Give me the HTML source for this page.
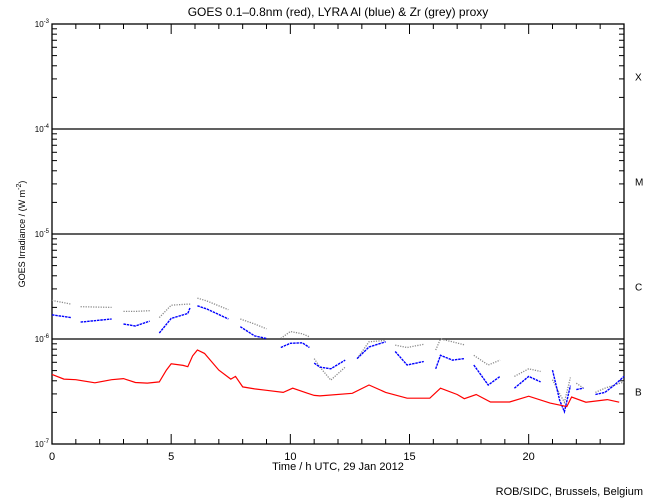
<!DOCTYPE html>
<html><head><meta charset="utf-8"><style>
html,body{margin:0;padding:0;background:#fff;}
svg{display:block;font-family:"Liberation Sans",sans-serif;}
</style></head><body>
<svg id="chart" width="650" height="500" viewBox="0 0 650 500">
<text x="338" y="16" font-size="12" text-anchor="middle">GOES 0.1–0.8nm (red), LYRA Al (blue) &amp; Zr (grey) proxy</text>
<g id="axes"></g>
<g id="series"></g>
<text x="338" y="470" font-size="11" text-anchor="middle">Time / h UTC, 29 Jan 2012</text>
<text transform="translate(25,234) rotate(-90)" font-size="9" text-anchor="middle">GOES Irradiance / (W m<tspan dy="-4" font-size="7">-2</tspan><tspan dy="4">)</tspan></text>
<text x="643" y="495" font-size="11" text-anchor="end">ROB/SIDC, Brussels, Belgium</text>
</svg>
<script>
const redHours=[0,0.5,1,1.8,2.5,3,3.5,4,4.5,4.8,5,5.5,5.7,5.9,6.1,6.4,7,7.5,7.7,8,8.5,9,9.7,10.1,10.7,11,11.24,12.6,13.3,14.0,14.9,15.85,16.3,17,17.3,17.8,18.4,19.2,20.0,20.9,21.6,21.8,22.4,23.3,23.8];
const redValues=[4.6e-7,4.15e-7,4.1e-7,3.83e-7,4.1e-7,4.2e-7,3.85e-7,3.8e-7,3.9e-7,5.06e-7,5.8e-7,5.6e-7,5.45e-7,6.9e-7,7.85e-7,7.3e-7,5.06e-7,4.15e-7,4.4e-7,3.5e-7,3.35e-7,3.25e-7,3.1e-7,3.4e-7,3.05e-7,2.9e-7,2.87e-7,3.04e-7,3.65e-7,3.1e-7,2.73e-7,2.73e-7,3.4e-7,2.96e-7,2.7e-7,2.96e-7,2.51e-7,2.51e-7,2.85e-7,2.45e-7,2.27e-7,2.8e-7,2.5e-7,2.65e-7,2.5e-7];
const proxyHours=[0,0.8,null,1.2,2.5,null,3,3.5,4.1,null,4.5,5,5.7,5.8,null,6.1,6.5,7.4,null,7.9,8.5,9,null,9.6,10,10.5,10.8,null,11,11.24,11.7,12.3,null,12.8,13.3,14.0,null,14.4,14.9,15.6,null,16.1,16.3,16.8,17.3,null,17.7,18.3,18.8,null,19.4,20.0,20.5,null,21.0,21.3,21.5,21.75,null,22.0,22.3,null,22.8,23.2,23.6,24];
const blueValues=[1.7e-6,1.6e-6,null,1.45e-6,1.55e-6,null,1.39e-6,1.33e-6,1.48e-6,null,1.14e-6,1.57e-6,1.75e-6,2.0e-6,null,2.07e-6,1.93e-6,1.55e-6,null,1.31e-6,1.07e-6,1.01e-6,null,8.3e-7,9.1e-7,9.2e-7,8.3e-7,null,5.9e-7,5.4e-7,5.2e-7,6.3e-7,null,6.5e-7,8.4e-7,9.4e-7,null,7.6e-7,5.65e-7,6.1e-7,null,5.2e-7,7.0e-7,6.3e-7,6.5e-7,null,5.65e-7,3.65e-7,4.4e-7,null,3.4e-7,4.4e-7,3.9e-7,null,5.06e-7,2.6e-7,2.03e-7,3.6e-7,null,3.3e-7,3.4e-7,null,2.96e-7,3.1e-7,3.65e-7,4.4e-7];
const greyValues=[2.33e-6,2.15e-6,null,2.03e-6,2.0e-6,null,1.83e-6,1.83e-6,1.86e-6,null,1.6e-6,2.1e-6,2.15e-6,2.15e-6,null,2.45e-6,2.3e-6,1.9e-6,null,1.55e-6,1.39e-6,1.25e-6,null,1.01e-6,1.18e-6,1.12e-6,1.05e-6,null,6.5e-7,5.4e-7,4.06e-7,5.4e-7,null,6.5e-7,9.4e-7,9.7e-7,null,8.75e-7,8.3e-7,8.9e-7,null,7.85e-7,1.0e-6,9.4e-7,8.8e-7,null,7.0e-7,5.65e-7,6.3e-7,null,4.4e-7,5.2e-7,4.9e-7,null,4.1e-7,3.0e-7,2.5e-7,4.3e-7,null,3.8e-7,3.4e-7,null,3.1e-7,3.4e-7,3.65e-7,3.9e-7];
const xTickLabels=["0","5","10","15","20"];
const yTickExps=[-7,-6,-5,-4,-3];
const classLabels=["B","C","M","X"];

const L=52,R=624,T=24,B=444;
const xs=h=>L+h*(R-L)/24;
const ys=v=>B-(Math.log10(v)+7)*105;
const NS="http://www.w3.org/2000/svg";
const axes=document.getElementById('axes'), series=document.getElementById('series');
function mk(tag,attrs,parent){const e=document.createElementNS(NS,tag);for(const k in attrs)e.setAttribute(k,attrs[k]);parent.appendChild(e);return e;}

const frame=mk('rect',{x:L,y:T,width:R-L,height:B-T,fill:'none',stroke:'#000','stroke-width':1.3},axes);


[-6,-5,-4].forEach(e=>{
  const ln=mk('line',{x1:L,x2:R,y1:ys(Math.pow(10,e)),y2:ys(Math.pow(10,e)),stroke:'#000','stroke-width':1.3},axes);
  
  
});
for(let e=-7;e<-3;e++){for(let m=2;m<=9;m++){const y=ys(m*Math.pow(10,e));
  mk('line',{x1:L,x2:L+5,y1:y,y2:y,stroke:'#000'},axes);mk('line',{x1:R-5,x2:R,y1:y,y2:y,stroke:'#000'},axes);}}
yTickExps.forEach(e=>{const y=ys(Math.pow(10,e));
  const t=mk('text',{x:L-3,y:y+3,'font-size':8,'text-anchor':'end'},axes);
  
  
  t.innerHTML='10<tspan dy="-4" font-size="6">'+e+'</tspan>';
});
for(let h=0;h<=24;h++){const x=xs(h),len=h%5===0?10:5;
  mk('line',{x1:x,x2:x,y1:B,y2:B-len,stroke:'#000'},axes);mk('line',{x1:x,x2:x,y1:T,y2:T+len,stroke:'#000'},axes);}
xTickLabels.forEach(s=>{const t=mk('text',{x:xs(+s),y:B+16,'font-size':11,'text-anchor':'middle'},axes);t.textContent=s;
  
  });
classLabels.forEach((c,i)=>{const t=mk('text',{x:R+11,y:ys(Math.pow(10,-7+i+0.5))+4,'font-size':10},axes);t.textContent=c;
  
  });

function drawSeries(hours,vals,color,dash,width,name){
  let segs=[],cur=[];
  hours.forEach((h,i)=>{if(h===null||vals[i]===null){if(cur.length)segs.push(cur);cur=[];}else cur.push(xs(h).toFixed(1)+','+ys(vals[i]).toFixed(1));});
  if(cur.length)segs.push(cur);
  segs.forEach(s=>{const p=mk('polyline',{points:s.join(' '),fill:'none',stroke:color,'stroke-width':width,'stroke-dasharray':dash},series);
    
    });
}
drawSeries(proxyHours,greyValues,'#8a8a8a','1.2 1.3',1.3,'lyra-zr-proxy-series');
drawSeries(proxyHours,blueValues,'#0000ff','2.5 0.8',1.4,'lyra-al-proxy-series');
drawSeries(redHours,redValues,'#ff0000','none',1.2,'goes-series');
</script>
</body></html>
